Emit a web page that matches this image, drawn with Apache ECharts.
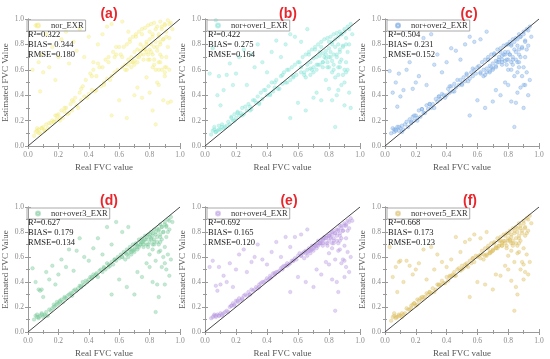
<!DOCTYPE html>
<html><head><meta charset="utf-8">
<script src="https://cdn.jsdelivr.net/npm/echarts@6/dist/echarts.min.js"></script>
<style>html,body{margin:0;padding:0;background:#fff}#c{width:550px;height:359px}</style>
</head><body><div id="c"></div>
<script>
const realFVC = [
.04,.05,.06,.06,.07,.08,.09,.10,.11,.12,.13,.15,.16,.17,.18,.19,.20,.21,.22,.23,.24,.25,.27,.28,.29,.30,
.31,.33,.34,.35,.36,.37,.38,.40,.41,.42,.43,.44,.45,.46,.48,.49,.50,.51,.52,.53,.55,.56,.57,.58,.59,.60,
.61,.62,.63,.64,.65,.66,.66,.67,.68,.68,.69,.70,.70,.71,.72,.72,.73,.74,.74,.75,.76,.76,.77,.78,.78,.79,.80,.80,.81,.81,.82,.82,.83,.83,.84,.85,.85,.86,.87,.87,.88,.89,.90,.91,.92,.93,.94,.95,
.03,.05,.07,.08,.09,.10,.12,.14,.16,.18,.20,.22,.25,.27,.30,.32,.34,.37,.40,.43,.46,.49,.52,.55,.58,.62,.66,
.55,.60,.65,.70,.72,.75,.78,.80,.82,.84,.85,.86,.88,.89,.90,.91,.92,.93,.94,.80,.84,.87,.90,
.62,.64,.67,.69,.71,.73,.75,.77,.79,.80,.81,.82,.83,.84,.85,.86,.86,.87,.88,.88,.89,.90,.90,.91,.92,.93,.70,.74,.78,.82,.86,.76,.79,.83,.87,.91,.65,.68,.72,.76,
.07,.09,.11,.14,.17,.19,.21,.24,.26,.29,.32,.35,.39,.42,.45,.47,.50,.53,.54,.57
];
const estA = [
.08,.11,.14,.12,.13,.10,.14,.15,.12,.17,.14,.18,.20,.19,.24,.21,.25,.20,.28,.22,.27,.30,.26,.33,.28,.35,
.38,.30,.42,.36,.47,.39,.52,.41,.57,.44,.60,.43,.55,.65,.47,.62,.50,.68,.53,.70,.55,.74,.58,.72,.60,.78,
.72,.62,.78,.60,.80,.68,.64,.84,.70,.66,.86,.74,.67,.88,.76,.70,.90,.75,.80,.92,.78,.72,.93,.82,.74,.95,.84,.76,.96,.80,.88,.72,.97,.78,.82,.94,.75,.86,.98,.80,.92,.84,.96,.90,.99,.85,.97,.92,
.60,.95,.66,.43,.72,.58,.88,.62,.78,.52,.70,.84,.90,.65,.82,.75,.92,.70,.86,.66,.80,.88,.94,.96,.78,.98,.90,
.24,.36,.22,.40,.46,.38,.54,.42,.28,.17,.50,.48,.60,.36,.58,.62,.34,.60,.35,.68,.60,.72,.55,
.70,.64,.82,.66,.86,.70,.88,.76,.72,.90,.74,.86,.68,.92,.78,.88,.66,.82,.94,.70,.84,.95,.62,.86,.78,.96,.64,.72,.80,.62,.60,.76,.68,.64,.66,.70,.60,.62,.66,.68,
.10,.14,.12,.18,.19,.24,.22,.30,.25,.36,.32,.45,.38,.55,.44,.62,.48,.66,.52,.70
];
const estB = [
.09,.12,.13,.15,.11,.12,.16,.13,.17,.14,.15,.19,.17,.23,.20,.25,.22,.27,.24,.26,.30,.25,.28,.33,.31,.29,
.36,.34,.39,.33,.42,.37,.44,.40,.47,.41,.50,.43,.46,.52,.45,.55,.49,.58,.50,.60,.52,.62,.55,.64,.56,.66,
.66,.58,.70,.56,.72,.64,.60,.74,.66,.61,.76,.69,.62,.78,.70,.64,.80,.71,.74,.82,.73,.66,.84,.75,.69,.85,.77,.70,.86,.74,.82,.67,.88,.72,.78,.89,.70,.80,.90,.74,.88,.79,.92,.85,.94,.80,.96,.88,
.57,.77,.99,.40,.55,.32,.44,.56,.65,.48,.57,.70,.76,.48,.72,.62,.80,.66,.58,.74,.83,.70,.80,.88,.86,.82,.92,
.22,.34,.28,.38,.42,.36,.52,.45,.36,.15,.40,.44,.48,.56,.32,.58,.60,.42,.30,.62,.54,.66,.50,
.62,.58,.72,.60,.76,.64,.78,.70,.66,.82,.70,.80,.64,.84,.72,.86,.62,.76,.88,.68,.78,.90,.60,.80,.74,.92,.58,.64,.72,.58,.56,.66,.62,.60,.62,.66,.54,.56,.60,.62,
.11,.13,.15,.16,.22,.20,.26,.24,.31,.28,.36,.34,.44,.40,.50,.45,.56,.50,.60,.54
];
const estC = [
.10,.14,.11,.13,.13,.15,.12,.14,.16,.13,.17,.15,.21,.19,.23,.20,.24,.22,.28,.23,.29,.26,.32,.29,.33,.30,
.33,.37,.35,.39,.37,.41,.40,.40,.45,.42,.47,.43,.49,.46,.48,.52,.49,.54,.51,.56,.53,.58,.55,.60,.57,.62,
.63,.57,.66,.55,.68,.61,.58,.70,.63,.59,.72,.65,.61,.73,.67,.63,.76,.68,.70,.77,.71,.64,.79,.72,.67,.80,.74,.68,.82,.72,.80,.66,.84,.70,.76,.85,.68,.79,.88,.72,.86,.77,.90,.83,.92,.79,.94,.86,
.59,.42,.50,.31,.57,.39,.44,.60,.66,.45,.50,.55,.85,.48,.88,.64,.72,.58,.66,.77,.75,.68,.80,.86,.82,.84,.90,
.24,.36,.30,.35,.44,.40,.50,.48,.35,.15,.34,.42,.46,.55,.30,.48,.58,.40,.52,.60,.55,.62,.48,
.58,.60,.68,.62,.72,.66,.74,.72,.68,.80,.72,.79,.68,.82,.74,.84,.66,.76,.86,.70,.78,.88,.62,.82,.76,.91,.60,.66,.74,.60,.58,.68,.64,.64,.66,.70,.56,.58,.62,.66,
.12,.15,.11,.19,.18,.24,.20,.29,.26,.33,.30,.39,.38,.47,.43,.52,.48,.57,.51,.61
];
const estD = [
.10,.13,.12,.14,.11,.13,.15,.12,.14,.16,.13,.17,.19,.22,.21,.24,.23,.25,.26,.24,.28,.27,.30,.31,.29,.33,
.34,.35,.37,.36,.40,.38,.41,.42,.44,.43,.46,.45,.47,.44,.50,.48,.52,.50,.55,.52,.56,.54,.58,.57,.60,.59,
.62,.60,.64,.58,.66,.63,.60,.68,.65,.62,.70,.67,.64,.71,.69,.66,.74,.70,.72,.75,.73,.68,.77,.74,.70,.78,.76,.72,.80,.75,.79,.70,.82,.74,.78,.83,.72,.81,.86,.76,.84,.80,.88,.85,.90,.82,.92,.88,
.51,.40,.34,.33,.34,.28,.48,.42,.53,.38,.46,.58,.52,.66,.49,.65,.75,.60,.57,.67,.75,.62,.84,.70,.88,.80,.84,
.30,.42,.36,.30,.48,.44,.55,.52,.40,.16,.38,.28,.52,.60,.38,.50,.62,.45,.58,.62,.57,.65,.55,
.60,.63,.66,.65,.70,.68,.72,.74,.70,.78,.74,.77,.72,.80,.76,.82,.70,.78,.84,.74,.80,.86,.68,.84,.80,.89,.66,.70,.76,.66,.64,.72,.68,.70,.72,.76,.62,.64,.68,.70,
.12,.14,.13,.18,.20,.22,.24,.27,.29,.31,.33,.37,.40,.44,.46,.49,.51,.54,.53,.58
];
const estE = [
.11,.12,.14,.13,.12,.14,.13,.15,.13,.15,.16,.16,.20,.21,.23,.22,.25,.24,.27,.25,.27,.29,.29,.32,.30,.34,
.33,.36,.35,.38,.39,.40,.40,.43,.42,.45,.44,.47,.46,.48,.49,.51,.50,.53,.53,.55,.55,.57,.57,.59,.58,.61,
.63,.61,.63,.59,.65,.64,.61,.67,.66,.63,.69,.68,.65,.70,.70,.67,.73,.71,.71,.74,.74,.69,.76,.75,.71,.77,.77,.73,.79,.76,.80,.71,.81,.75,.79,.82,.73,.82,.85,.77,.85,.81,.87,.86,.89,.83,.91,.89,
.52,.57,.37,.33,.52,.38,.45,.40,.55,.36,.50,.62,.66,.48,.56,.60,.70,.58,.54,.64,.72,.60,.76,.68,.76,.78,.82,
.32,.44,.40,.36,.50,.46,.56,.54,.42,.17,.40,.32,.55,.58,.44,.52,.64,.48,.60,.63,.58,.66,.57,
.61,.64,.65,.66,.69,.69,.71,.75,.71,.77,.75,.78,.73,.79,.77,.81,.71,.79,.83,.75,.81,.85,.69,.85,.81,.88,.67,.71,.75,.67,.65,.73,.69,.71,.73,.75,.63,.65,.69,.71,
.13,.13,.14,.17,.21,.21,.25,.26,.30,.30,.34,.36,.41,.43,.47,.48,.52,.53,.54,.57
];
const estF = [
.09,.12,.13,.15,.12,.12,.14,.13,.15,.14,.15,.18,.18,.21,.22,.23,.21,.26,.25,.27,.26,.28,.31,.30,.32,.31,
.35,.34,.38,.37,.38,.41,.39,.44,.41,.44,.45,.46,.48,.45,.51,.49,.53,.51,.54,.53,.57,.55,.59,.56,.61,.60,
.61,.62,.65,.58,.67,.62,.61,.69,.64,.63,.71,.66,.65,.72,.68,.67,.75,.69,.73,.76,.72,.69,.78,.73,.71,.79,.75,.73,.81,.74,.78,.71,.83,.73,.79,.84,.71,.80,.87,.75,.83,.81,.89,.84,.91,.81,.93,.87,
.68,.44,.52,.32,.56,.57,.40,.57,.53,.46,.50,.55,.66,.42,.68,.50,.62,.56,.52,.58,.76,.64,.72,.74,.78,.75,.80,
.28,.40,.38,.34,.46,.45,.53,.50,.41,.17,.36,.30,.50,.56,.42,.48,.62,.46,.56,.61,.56,.64,.54,
.59,.62,.67,.64,.71,.67,.73,.73,.69,.79,.73,.76,.71,.81,.75,.83,.69,.77,.85,.73,.79,.87,.67,.83,.79,.90,.65,.69,.77,.65,.63,.71,.67,.69,.71,.77,.61,.63,.67,.69,
.11,.13,.12,.19,.19,.23,.22,.28,.28,.32,.32,.38,.39,.45,.45,.50,.50,.55,.52,.59
];
const panelLetters = ['(a)','(b)','(c)','(d)','(e)','(f)'];
const seriesNames = ['nor_EXR','nor+over1_EXR','nor+over2_EXR','nor+over3_EXR','nor+over4_EXR','nor+over5_EXR'];
const r2Values = ['0.322','0.422','0.504','0.627','0.692','0.668'];
const biasValues = ['0.344','0.275','0.231','0.179','0.165','0.173'];
const rmseValues = ['0.180','0.164','0.152','0.134','0.120','0.123'];
const axisTicks = [0, 0.2, 0.4, 0.6, 0.8, 1.0];
const estimates = [estA, estB, estC, estD, estE, estF];

// styling / layout (not data)
const colors = ['rgba(246,240,130,0.55)','rgba(140,232,218,0.55)','rgba(150,190,235,0.6)','rgba(135,210,165,0.6)','rgba(195,165,230,0.6)','rgba(228,200,110,0.6)'];
const borders = ['rgba(235,225,100,0.5)','rgba(100,215,200,0.5)','rgba(80,140,215,0.6)','rgba(90,185,130,0.5)','rgba(165,130,215,0.5)','rgba(205,170,70,0.5)'];
const layout = [
  {l:25,t:19,w:155,tx:104,ty:2},{l:205,t:19,w:155,tx:283,ty:2},{l:385,t:19,w:154,tx:464,ty:2},
  {l:25,t:207,w:155,tx:104,ty:189},{l:205,t:207,w:155,tx:284,ty:189},{l:385,t:207,w:154,tx:465,ty:189}
];
const H = 127;
const SERIF = 'Liberation Serif';
const axisCol = '#9a9a9a';

const grid=[], xAxis=[], yAxis=[], series=[], title=[], legend=[];
layout.forEach((p,k)=>{
  grid.push({left:p.l, top:p.t, width:p.w, height:H, show:false});
  const common = {type:'value', min:axisTicks[0], max:axisTicks[axisTicks.length-1], interval:axisTicks[1]-axisTicks[0], gridIndex:k,
    splitLine:{show:false},
    axisLine:{show:true, lineStyle:{color:axisCol, width:1}},
    axisTick:{show:true, inside:true, length:3, lineStyle:{color:axisCol}},
    minorTick:{show:true, splitNumber:2, length:2, lineStyle:{color:axisCol}}};
  xAxis.push(Object.assign({}, common, {position:'bottom',
    axisLabel:{fontFamily:SERIF, fontSize:7.5, color:'#8a8a8a', margin:5, formatter:v=>v.toFixed(1)},
    name:'Real FVC value', nameLocation:'middle', nameGap:17,
    nameTextStyle:{fontFamily:SERIF, fontSize:9, color:'#555'}}));
  xAxis.push(Object.assign({}, common, {position:'top', axisLabel:{show:false}}));
  yAxis.push(Object.assign({}, common, {position:'left',
    axisLabel:{fontFamily:SERIF, fontSize:7.5, color:'#8a8a8a', margin:4, formatter:v=>v.toFixed(1)},
    name:'Estimated FVC Value', nameLocation:'middle', nameGap:18,
    nameTextStyle:{fontFamily:SERIF, fontSize:9, color:'#555'}}));
  yAxis.push(Object.assign({}, common, {position:'right', axisLabel:{show:false}}));
  const est = estimates[k];
  const data = realFVC.map((x,i)=>[x, est[i]]).filter(d=>d[1]!==undefined);
  series.push({type:'scatter', name:seriesNames[k], xAxisIndex:2*k, yAxisIndex:2*k, data:data,
    symbol:'circle', symbolSize:3.6,
    itemStyle:{color:colors[k], borderColor:borders[k], borderWidth:0.5}, z:2});
  series.push({type:'line', name:'1:1', xAxisIndex:2*k, yAxisIndex:2*k,
    data:[[axisTicks[0],axisTicks[0]],[axisTicks[5],axisTicks[5]]], symbol:'none', silent:true,
    lineStyle:{color:'#333', width:0.9}, z:3});
  title.push({text:panelLetters[k], left:p.tx, top:p.ty, textAlign:'center',
    textStyle:{fontFamily:'Liberation Sans', fontWeight:'bold', fontSize:14, color:'#e8262c'}});
  title.push({text:'R\u00b2='+r2Values[k]+'\nBIAS= '+biasValues[k]+'\nRMSE='+rmseValues[k],
    left:p.l+3, top:p.t+11, padding:0,
    textStyle:{fontFamily:SERIF, fontWeight:'normal', fontSize:8.5, lineHeight:10, color:'#222'}});
  legend.push({data:[seriesNames[k]], left:p.l+2, top:p.t+1, orient:'horizontal',
    borderColor:'#aaa', borderWidth:1, padding:[1,2,1,8], borderRadius:0,
    itemWidth:4, itemHeight:4, icon:'circle',
    textStyle:{fontFamily:SERIF, fontSize:8.5, color:'#333', padding:[0,0,0,6]}});
});

const chart = echarts.init(document.getElementById('c'), null, {renderer:'canvas'});
chart.setOption({backgroundColor:'#fff', animation:false, grid, xAxis, yAxis, series, title, legend});
</script>
</body></html>
